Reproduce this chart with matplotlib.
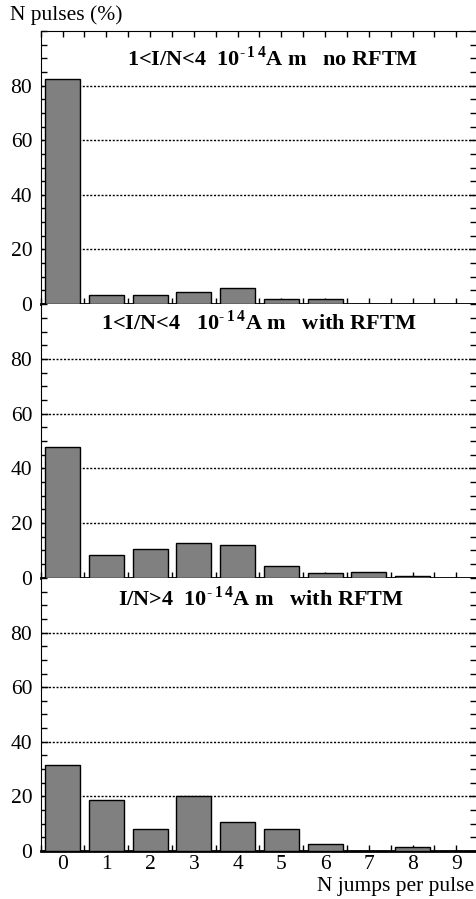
import numpy as np
import matplotlib
matplotlib.use('Agg')
import matplotlib.pyplot as plt
from matplotlib.ticker import MultipleLocator

plt.rcParams['font.family'] = ['Liberation Serif', 'DejaVu Serif']
plt.rcParams['mathtext.fontset'] = 'custom'
plt.rcParams['mathtext.rm'] = 'Liberation Serif'
plt.rcParams['mathtext.bf'] = 'Liberation Serif:bold'

njumps = np.arange(10)
no_rftm_low = [82.4, 3.2, 3.2, 4.3, 5.7, 1.7, 1.7, 0, 0, 0]
with_rftm_low = [47.7, 8.3, 10.5, 12.6, 12.0, 4.2, 1.7, 2.1, 0.5, 0]
with_rftm_high = [31.6, 18.6, 8.2, 20.0, 10.5, 8.2, 2.7, 0, 1.6, 0]

sup = r'$^{\mathrm{\text{-}}\,\mathbf{1\,4}}$'
titles = ['1<I/N<4  10' + sup + 'A m   no RFTM',
          '1<I/N<4   10' + sup + 'A m   with RFTM',
          'I/N>4  10' + sup + 'A m   with RFTM']
title_y = [0.90, 0.935, 0.925]
title_x = [0.533, 0.5, 0.505]
series = [no_rftm_low, with_rftm_low, with_rftm_high]

fig = plt.figure(figsize=(4.76, 8.99), dpi=100)
bottoms = [0.6618, 0.3576, 0.0534]
h = 0.3037
left = 40.7/476

for k in range(3):
    ax = fig.add_axes([left, bottoms[k], 1.0-left, h])
    ax.bar(njumps, series[k], width=0.8, color='#808080', edgecolor='black', linewidth=1, zorder=3)
    ax.set_xlim(-0.5, 9.45)
    ax.set_ylim(0, 100)
    ax.set_yticks([0, 20, 40, 60, 80])
    ax.yaxis.set_minor_locator(MultipleLocator(5))
    ax.set_xticks(njumps)
    ax.xaxis.set_minor_locator(MultipleLocator(0.5))
    for yv in [20, 40, 60, 80]:
        ax.axhline(yv, color='black', lw=1, ls=(0, (1.5, 1.2)), zorder=1)
    ax.tick_params(axis='both', which='both', direction='in', labelsize=15.5, width=1)
    ax.tick_params(axis='y', which='major', length=5, right=True, pad=6)
    ax.tick_params(axis='y', which='minor', length=4, right=True)
    ax.tick_params(axis='x', which='major', length=4, top=(k == 0), pad=3)
    ax.tick_params(axis='x', which='minor', length=4, top=(k == 0))
    if k < 2:
        ax.tick_params(axis='x', labelbottom=False)
    ax.spines['bottom'].set_linestyle((0, (1, 1)))
    ax.spines['bottom'].set_linewidth(2)
    ax.spines['right'].set_visible(False)
    if k > 0:
        ax.spines['top'].set_visible(False)
    ax.text(title_x[k], title_y[k], titles[k], transform=ax.transAxes,
            ha='center', va='center', fontsize=16, fontweight='bold')

fig.text(10/476, 1-15/899, 'N pulses (%)', ha='left', va='center', fontsize=15.5)
fig.text(474/476, 1-886/899, 'N jumps per pulse', ha='right', va='center', fontsize=15.5)

plt.savefig('out.png', dpi=100)
